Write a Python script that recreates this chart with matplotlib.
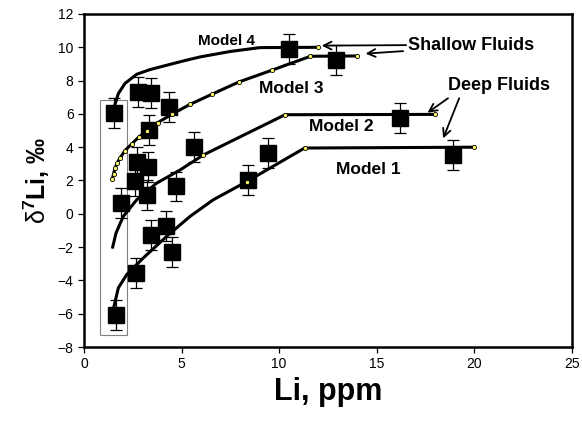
import matplotlib
matplotlib.use("Agg")
import matplotlib.pyplot as plt
from matplotlib.patches import Rectangle

plt.rcParams['font.family'] = ['Liberation Sans', 'DejaVu Sans']
plt.rcParams['mathtext.fontset'] = 'custom'
plt.rcParams['mathtext.rm'] = 'Liberation Sans'
plt.rcParams['mathtext.bf'] = 'Liberation Sans:bold'

# Measured samples
li_ppm = [1.55, 2.78, 3.43, 4.35, 3.33, 5.65, 2.70, 3.29, 9.44, 8.42, 10.5, 12.9,
          16.19, 18.92, 1.88, 2.61, 3.21, 4.71, 3.43, 4.18, 4.53, 2.65, 1.62]
d7li = [6.03, 7.32, 7.23, 6.42, 5.03, 4.03, 3.13, 2.83, 3.63, 2.04, 9.88, 9.22,
        5.73, 3.53, 0.64, 1.94, 1.14, 1.64, -1.26, -0.76, -2.32, -3.55, -6.05]
d7li_err = 0.9

# Model curves
m1_x = [1.5, 1.76, 2.19, 3.04, 4.23, 5.43, 6.62, 8.33, 11.3, 20.0]
m1_y = [-5.75, -4.45, -3.65, -2.65, -1.36, -0.16, 0.84, 1.93, 3.95, 4.0]
m2_x = [1.47, 1.64, 2.01, 2.70, 3.72, 4.92, 6.11, 10.3, 18.0]
m2_y = [-2.0, -1.16, -0.16, 0.84, 1.84, 2.63, 3.53, 5.95, 5.97]
m3_x = [1.45, 1.52, 1.59, 1.70, 1.84, 2.10, 2.44, 2.80, 3.21, 3.77, 4.49, 5.43, 6.57, 7.94, 9.62, 11.6, 14.0]
m3_y = [2.08, 2.42, 2.74, 3.05, 3.34, 3.80, 4.19, 4.60, 4.99, 5.47, 5.97, 6.57, 7.19, 7.92, 8.62, 9.46, 9.48]
m4_x = [1.5, 1.76, 2.1, 2.7, 3.38, 4.23, 5.09, 5.94, 7.5, 9.0, 12.0]
m4_y = [6.23, 7.22, 7.83, 8.38, 8.66, 8.92, 9.18, 9.42, 9.75, 9.98, 10.0]

xticks = [0, 5, 10, 15, 20, 25]
yticks = [-8, -6, -4, -2, 0, 2, 4, 6, 8, 10, 12]

fig = plt.figure(figsize=(5.82, 4.24), dpi=100)
ax = fig.add_axes([0.1443, 0.1816, 0.8385, 0.7854])

ax.errorbar(li_ppm, d7li, yerr=d7li_err, fmt='s', color='black', ms=11.5,
            mfc='black', mec='black', ecolor='black', elinewidth=0.9,
            capsize=4, capthick=0.9, zorder=2)

for mx, my in [(m1_x, m1_y), (m2_x, m2_y), (m3_x, m3_y), (m4_x, m4_y)]:
    ax.plot(mx, my, '-', color='black', lw=2.2, zorder=3)
for mx, my in [(m1_x[-3:], m1_y[-3:]), (m2_x[-3:], m2_y[-3:]), (m3_x, m3_y), (m4_x[-1:], m4_y[-1:])]:
    ax.plot(mx, my, 'o', ms=3, mfc='#ffff66', mec='black', mew=0.6, zorder=4)

ax.add_patch(Rectangle((0.82, -7.25), 1.40, 14.08, fill=False, ec='#808080', lw=0.8, zorder=1))

ax.text(5.84, 10.37, 'Model 4', fontsize=11, fontweight='bold', va='center', ha='left')
ax.text(8.96, 7.55, 'Model 3', fontsize=12.5, fontweight='bold', va='center', ha='left')
ax.text(11.52, 5.23, 'Model 2', fontsize=12.5, fontweight='bold', va='center', ha='left')
ax.text(12.9, 2.66, 'Model 1', fontsize=12.5, fontweight='bold', va='center', ha='left')

ax.text(16.6, 10.1, 'Shallow Fluids', fontsize=13, fontweight='bold', va='center', ha='left')
ax.text(18.64, 7.7, 'Deep Fluids', fontsize=13, fontweight='bold', va='center', ha='left')

arr = dict(arrowstyle='->', color='black', lw=1.3, mutation_scale=14, shrinkA=0, shrinkB=0)
ax.annotate('', xy=(12.18, 10.1), xytext=(16.5, 10.13), arrowprops=arr)
ax.annotate('', xy=(14.43, 9.62), xytext=(16.35, 9.77), arrowprops=arr)
ax.annotate('', xy=(17.6, 6.07), xytext=(18.65, 6.94), arrowprops=arr)
ax.annotate('', xy=(18.4, 4.53), xytext=(19.22, 6.94), arrowprops=arr)

ax.set_xlim(0, 25)
ax.set_ylim(-8, 12)
ax.set_xticks(xticks)
ax.set_yticks(yticks)
ax.tick_params(direction='out', length=4.5, width=0.9, labelsize=10, pad=3)
for s in ax.spines.values():
    s.set_linewidth(1.8)

ax.set_xlabel('Li, ppm', fontsize=22, fontweight='bold', labelpad=4)
ax.set_ylabel(r'$\mathrm{\delta}^{\mathbf{7}}$Li, ‰', fontsize=18, fontweight='bold', labelpad=4)

fig.savefig('out.png', dpi=100)
